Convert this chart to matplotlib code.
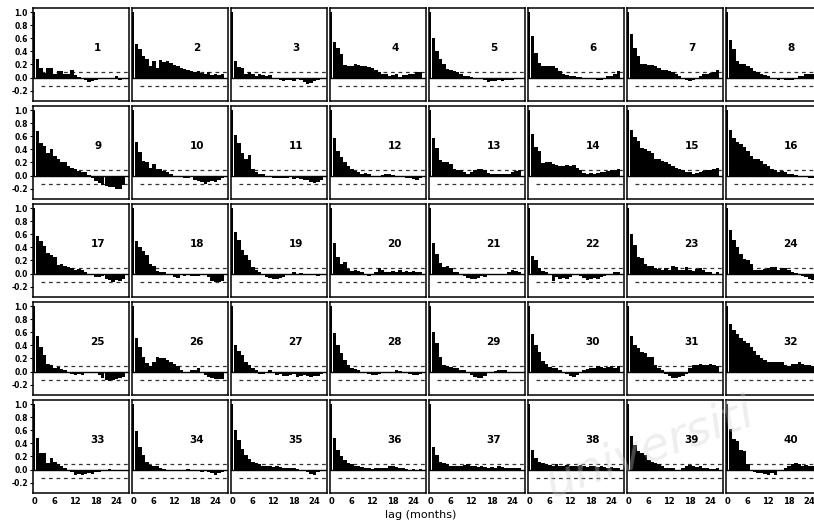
import numpy as np
import matplotlib
matplotlib.use("Agg")
import matplotlib.pyplot as plt

# autocorrelation at lags 1..26 for each of the 40 series (lag 0 = 1.0)
lags = np.arange(0, 27)
acf = {
    1: [0.28, 0.15, 0.07, 0.14, 0.14, 0.06, 0.10, 0.10, 0.05, 0.05, 0.11, 0.04, 0.01, -0.02, -0.03, -0.06, -0.05, -0.03, -0.02, -0.02, -0.01, -0.02, -0.01, 0.02, -0.03, -0.01],
    2: [0.52, 0.43, 0.33, 0.28, 0.18, 0.26, 0.15, 0.27, 0.24, 0.25, 0.22, 0.19, 0.17, 0.15, 0.13, 0.12, 0.10, 0.08, 0.10, 0.07, 0.05, 0.08, 0.04, 0.06, 0.04, 0.05],
    3: [0.25, 0.16, 0.15, 0.05, 0.08, 0.05, 0.02, 0.06, 0.04, 0.02, 0.04, 0.0, -0.02, -0.04, -0.05, -0.03, -0.04, -0.05, -0.02, -0.03, -0.07, -0.10, -0.08, -0.05, -0.03, -0.01],
    4: [0.55, 0.45, 0.36, 0.19, 0.18, 0.17, 0.20, 0.19, 0.18, 0.18, 0.16, 0.15, 0.12, 0.08, 0.05, 0.05, 0.03, 0.04, 0.05, 0.01, 0.04, 0.04, 0.06, 0.06, 0.08, 0.08],
    5: [0.60, 0.41, 0.28, 0.20, 0.13, 0.11, 0.10, 0.09, 0.05, 0.03, 0.02, 0.01, 0.0, -0.01, -0.02, -0.04, -0.06, -0.05, -0.05, -0.04, -0.05, -0.04, -0.03, -0.04, -0.02, -0.01],
    6: [0.63, 0.38, 0.23, 0.18, 0.18, 0.18, 0.18, 0.15, 0.10, 0.06, 0.04, 0.03, 0.02, 0.01, 0.01, 0.0, 0.0, 0.0, -0.01, -0.03, -0.04, -0.02, 0.02, 0.03, 0.06, 0.10],
    7: [0.67, 0.45, 0.33, 0.20, 0.20, 0.19, 0.19, 0.18, 0.15, 0.12, 0.11, 0.10, 0.08, 0.05, 0.03, 0.00, -0.03, -0.05, -0.03, 0.0, 0.03, 0.05, 0.06, 0.07, 0.09, 0.12],
    8: [0.57, 0.43, 0.25, 0.20, 0.20, 0.17, 0.15, 0.10, 0.08, 0.06, 0.04, 0.02, 0.0, -0.02, -0.03, -0.02, -0.03, -0.04, -0.04, -0.01, 0.02, 0.03, 0.05, 0.06, 0.06, 0.05],
    9: [0.68, 0.50, 0.45, 0.35, 0.40, 0.30, 0.25, 0.20, 0.20, 0.15, 0.12, 0.10, 0.07, 0.06, 0.06, 0.01, -0.03, -0.08, -0.12, -0.15, -0.16, -0.18, -0.18, -0.20, -0.20, -0.15],
    10: [0.52, 0.36, 0.23, 0.20, 0.12, 0.17, 0.10, 0.10, 0.07, 0.05, 0.02, 0.0, -0.01, -0.01, -0.03, -0.04, -0.02, -0.06, -0.09, -0.10, -0.13, -0.10, -0.08, -0.10, -0.07, -0.04],
    11: [0.62, 0.50, 0.35, 0.26, 0.32, 0.10, 0.05, 0.03, 0.02, 0.0, -0.02, -0.03, -0.03, -0.04, -0.04, -0.03, -0.02, -0.05, -0.03, -0.05, -0.06, -0.07, -0.10, -0.12, -0.10, -0.07],
    12: [0.57, 0.38, 0.29, 0.20, 0.15, 0.10, 0.07, 0.05, 0.03, 0.04, 0.02, 0.0, 0.0, -0.01, 0.01, 0.02, 0.03, 0.01, 0.0, -0.01, -0.02, -0.03, -0.04, -0.05, -0.06, -0.03],
    13: [0.58, 0.42, 0.24, 0.21, 0.20, 0.17, 0.10, 0.09, 0.09, 0.05, 0.03, 0.05, 0.08, 0.10, 0.10, 0.08, 0.04, 0.02, 0.03, 0.02, 0.03, 0.02, 0.03, 0.05, 0.07, 0.08],
    14: [0.63, 0.44, 0.38, 0.19, 0.20, 0.20, 0.17, 0.16, 0.15, 0.15, 0.16, 0.14, 0.16, 0.12, 0.08, 0.04, 0.03, 0.04, 0.03, 0.04, 0.05, 0.06, 0.07, 0.08, 0.08, 0.10],
    15: [0.70, 0.59, 0.53, 0.42, 0.40, 0.37, 0.34, 0.26, 0.25, 0.23, 0.20, 0.18, 0.15, 0.12, 0.10, 0.08, 0.06, 0.05, 0.03, 0.04, 0.05, 0.07, 0.08, 0.09, 0.10, 0.12],
    16: [0.69, 0.57, 0.51, 0.48, 0.44, 0.38, 0.30, 0.26, 0.25, 0.22, 0.18, 0.14, 0.10, 0.08, 0.06, 0.07, 0.05, 0.03, 0.02, 0.01, 0.0, -0.01, -0.02, -0.03, -0.03, -0.03],
    17: [0.57, 0.50, 0.42, 0.31, 0.28, 0.25, 0.13, 0.14, 0.12, 0.10, 0.08, 0.06, 0.07, 0.05, 0.02, 0.0, -0.02, -0.05, -0.05, -0.03, -0.08, -0.10, -0.13, -0.10, -0.12, -0.09],
    18: [0.50, 0.41, 0.35, 0.28, 0.15, 0.12, 0.04, 0.03, 0.02, 0.0, -0.02, -0.05, -0.06, -0.02, -0.03, -0.01, -0.03, -0.04, -0.03, -0.02, 0.0, -0.05, -0.12, -0.13, -0.13, -0.12],
    19: [0.64, 0.51, 0.36, 0.28, 0.20, 0.10, 0.05, 0.02, -0.02, -0.05, -0.07, -0.08, -0.08, -0.07, -0.05, -0.02, 0.0, 0.02, 0.0, 0.01, -0.01, -0.02, 0.0, -0.02, -0.03, -0.01],
    20: [0.46, 0.26, 0.14, 0.18, 0.07, 0.04, 0.06, 0.04, 0.02, -0.02, -0.03, 0.0, 0.03, 0.08, 0.05, 0.03, 0.02, 0.04, 0.02, 0.05, 0.03, 0.04, 0.02, 0.04, 0.03, 0.02],
    21: [0.46, 0.30, 0.16, 0.10, 0.12, 0.08, 0.03, 0.02, -0.02, -0.04, -0.06, -0.08, -0.08, -0.06, -0.04, -0.05, -0.02, -0.02, -0.01, 0.0, -0.01, -0.02, 0.02, 0.05, 0.04, 0.02],
    22: [0.27, 0.21, 0.08, 0.04, 0.02, -0.02, -0.11, -0.05, -0.08, -0.07, -0.08, -0.05, -0.02, -0.01, -0.03, -0.06, -0.10, -0.08, -0.06, -0.08, -0.05, -0.03, -0.01, 0.0, 0.02, 0.03],
    23: [0.61, 0.43, 0.26, 0.24, 0.15, 0.12, 0.12, 0.08, 0.07, 0.06, 0.08, 0.06, 0.12, 0.10, 0.06, 0.06, 0.10, 0.06, 0.04, 0.07, 0.08, 0.05, 0.03, 0.02, 0.0, 0.02],
    24: [0.66, 0.52, 0.41, 0.30, 0.22, 0.20, 0.15, 0.06, 0.05, 0.06, 0.07, 0.08, 0.10, 0.10, 0.06, 0.09, 0.08, 0.05, 0.03, 0.01, -0.01, -0.03, -0.05, -0.08, -0.10, -0.12],
    25: [0.54, 0.37, 0.25, 0.12, 0.10, 0.06, 0.07, 0.04, 0.02, -0.02, -0.03, -0.05, -0.03, -0.05, -0.02, -0.02, 0.0, -0.02, -0.05, -0.10, -0.13, -0.14, -0.13, -0.12, -0.10, -0.08],
    26: [0.52, 0.37, 0.23, 0.13, 0.09, 0.15, 0.23, 0.21, 0.20, 0.18, 0.15, 0.12, 0.08, 0.03, 0.0, -0.02, 0.03, 0.02, 0.05, 0.0, -0.05, -0.08, -0.10, -0.12, -0.12, -0.12],
    27: [0.40, 0.32, 0.25, 0.15, 0.10, 0.05, 0.03, -0.03, -0.04, 0.0, 0.02, -0.02, -0.05, -0.03, -0.07, -0.06, -0.05, -0.03, -0.08, -0.06, -0.05, -0.07, -0.08, -0.06, -0.07, -0.04],
    28: [0.59, 0.40, 0.28, 0.18, 0.10, 0.06, 0.04, 0.02, 0.0, -0.02, -0.03, -0.05, -0.05, -0.04, -0.02, 0.0, -0.01, 0.0, 0.03, 0.01, -0.01, -0.02, -0.04, -0.05, -0.05, -0.03],
    29: [0.61, 0.44, 0.23, 0.10, 0.08, 0.07, 0.05, 0.06, 0.03, 0.02, -0.02, -0.05, -0.08, -0.10, -0.10, -0.06, -0.02, 0.0, 0.01, 0.02, 0.03, 0.02, 0.0, -0.01, -0.02, -0.01],
    30: [0.57, 0.40, 0.30, 0.16, 0.12, 0.07, 0.06, 0.05, 0.03, 0.0, -0.03, -0.06, -0.08, -0.05, -0.02, 0.02, 0.04, 0.06, 0.05, 0.08, 0.07, 0.05, 0.07, 0.08, 0.06, 0.09],
    31: [0.54, 0.41, 0.36, 0.30, 0.28, 0.23, 0.22, 0.10, 0.05, 0.02, -0.03, -0.06, -0.10, -0.10, -0.08, -0.06, -0.03, 0.05, 0.10, 0.10, 0.12, 0.10, 0.10, 0.12, 0.10, 0.08],
    32: [0.73, 0.64, 0.57, 0.52, 0.47, 0.44, 0.37, 0.32, 0.25, 0.20, 0.18, 0.15, 0.14, 0.14, 0.14, 0.15, 0.10, 0.08, 0.12, 0.12, 0.14, 0.12, 0.10, 0.10, 0.09, 0.08],
    33: [0.48, 0.26, 0.25, 0.10, 0.17, 0.12, 0.08, 0.05, 0.03, 0.0, -0.03, -0.08, -0.06, -0.08, -0.06, -0.05, -0.07, -0.04, -0.03, -0.02, -0.01, 0.01, -0.02, -0.02, -0.01, -0.01],
    34: [0.59, 0.34, 0.22, 0.12, 0.07, 0.05, 0.06, 0.03, 0.01, 0.0, -0.01, -0.02, -0.02, -0.02, 0.0, 0.01, 0.0, -0.01, -0.02, -0.03, -0.02, -0.03, -0.05, -0.08, -0.05, -0.03],
    35: [0.60, 0.45, 0.32, 0.22, 0.16, 0.12, 0.10, 0.08, 0.06, 0.05, 0.05, 0.04, 0.05, 0.04, 0.03, 0.03, 0.02, 0.02, 0.01, 0.0, -0.01, -0.03, -0.06, -0.08, -0.04, -0.02],
    36: [0.48, 0.30, 0.20, 0.15, 0.10, 0.08, 0.06, 0.05, 0.04, 0.03, 0.02, 0.01, 0.02, 0.03, 0.02, 0.03, 0.05, 0.06, 0.04, 0.03, 0.02, 0.01, 0.0, 0.01, 0.0, 0.01],
    37: [0.35, 0.22, 0.12, 0.10, 0.08, 0.06, 0.05, 0.06, 0.05, 0.07, 0.08, 0.06, 0.05, 0.04, 0.05, 0.04, 0.03, 0.04, 0.03, 0.05, 0.04, 0.03, 0.02, 0.03, 0.02, 0.03],
    38: [0.30, 0.18, 0.12, 0.10, 0.08, 0.07, 0.06, 0.08, 0.06, 0.05, 0.07, 0.06, 0.05, 0.06, 0.07, 0.05, 0.04, 0.06, 0.05, 0.04, 0.05, 0.04, 0.03, 0.04, 0.03, 0.03],
    39: [0.52, 0.38, 0.28, 0.25, 0.22, 0.15, 0.12, 0.10, 0.08, 0.05, 0.03, 0.02, 0.02, 0.0, 0.0, 0.02, 0.05, 0.07, 0.05, 0.04, 0.05, 0.03, 0.02, 0.01, 0.01, 0.02],
    40: [0.62, 0.47, 0.43, 0.30, 0.28, 0.08, 0.0, -0.03, -0.05, -0.05, -0.07, -0.08, -0.05, -0.08, -0.02, 0.0, 0.02, 0.05, 0.08, 0.10, 0.08, 0.06, 0.07, 0.06, 0.06, 0.05],
}
upper_band = 0.09
lower_band = -0.13
yticks = [1.0, 0.8, 0.6, 0.4, 0.2, 0.0, -0.2]
xticks = [0, 6, 12, 18, 24]

W, H = 814, 523
fig = plt.figure(figsize=(W / 100, H / 100), dpi=100)

ncol, nrow = 8, 5
for n in range(1, 41):
    r = (n - 1) // ncol
    c = (n - 1) % ncol
    left = 32.5 + 99 * c
    top = 7.5 + 98 * r
    ax = fig.add_axes([left / W, (H - top - 93) / H, 96 / W, 93 / H])
    vals = [1.0] + acf[n]
    widths = [0.6] + [1.0] * (len(vals) - 1)
    ax.plot([2, 27.5], [upper_band, upper_band], ls=(0, (3, 3)), color="#333333", lw=0.9, zorder=1)
    ax.plot([2, 27.5], [lower_band, lower_band], ls=(0, (3, 3)), color="#333333", lw=0.9, zorder=1)
    ax.bar(lags, vals, width=widths, color="black", edgecolor="none", zorder=2)
    ax.axhline(0, color="black", lw=1.0, zorder=3)
    ax.set_xlim(-0.5, 27.5)
    ax.set_ylim(-0.35, 1.07)
    for s in ax.spines.values():
        s.set_linewidth(1.1)
    ax.text(0.68, 0.56, str(n), transform=ax.transAxes, ha="center", va="center",
            fontsize=7.5, fontweight="bold")
    if c == 0:
        ax.set_yticks(yticks)
        ax.set_yticklabels(["%.1f" % v for v in yticks], fontsize=5.5, fontweight="bold")
        ax.tick_params(axis="y", length=2, pad=1.5)
    else:
        ax.set_yticks([])
    if r == nrow - 1:
        ax.set_xticks(xticks)
        ax.set_xticklabels([str(v) for v in xticks], fontsize=6, fontweight="bold")
        ax.tick_params(axis="x", length=0, pad=3)
    else:
        ax.set_xticks([])

fig.text(421 / W, 1 - 515 / H, "lag (months)", ha="center", va="center", fontsize=8)
# faint scan watermark
fig.text(650 / W, 1 - 448 / H, "universiti", ha="center", va="center", fontsize=34,
         style="italic", rotation=20, color="#d0d0d0", alpha=0.35, zorder=10)

fig.savefig("out.png", dpi=100)
